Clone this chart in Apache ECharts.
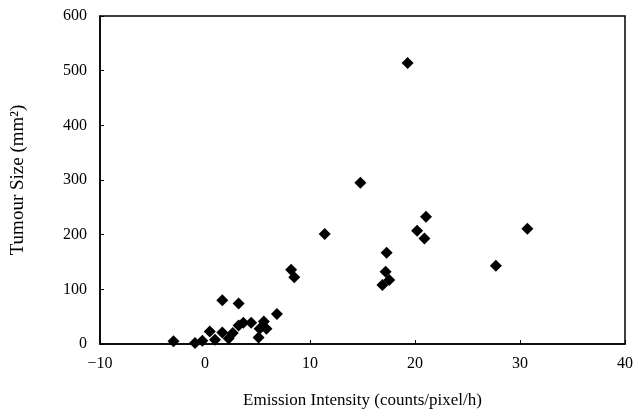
<!DOCTYPE html>
<html>
<head>
<meta charset="utf-8">
<script src="https://cdn.jsdelivr.net/npm/echarts@6/dist/echarts.min.js"></script>
<style>html,body{margin:0;padding:0;background:#fff}#c{width:638px;height:419px}</style>
</head>
<body>
<div id="c"></div>
<script>
var emissionIntensity = [-3.0, -0.95, -0.25, 0.45, 0.95, 1.65, 1.65, 2.25, 2.65, 3.2, 3.2, 3.65, 4.4, 5.1, 5.2, 5.6, 5.85, 6.85, 8.2, 8.5, 11.4, 14.8, 19.3, 17.3, 17.2, 17.55, 16.9, 20.2, 21.05, 20.9, 27.7, 30.7];
var tumourSize = [5, 2, 6, 23, 8, 80, 21, 10, 20, 74, 34, 39, 39, 12, 28, 41, 28, 55, 136, 122, 201, 295, 514, 167, 132, 117, 108, 207, 233, 193, 143, 211];
var xTitle = 'Emission Intensity (counts/pixel/h)';
var yTitle = 'Tumour Size (mm²)';

var points = emissionIntensity.map(function (x, i) { return [x, tumourSize[i]]; });
var font = 'Liberation Serif';
var chart = echarts.init(document.getElementById('c'), null, {renderer: 'canvas'});
chart.setOption({
  animation: false,
  backgroundColor: '#fff',
  grid: {left: 100, right: 13, top: 16, bottom: 75, show: true, borderColor: '#000', borderWidth: 1.5, containLabel: false},
  xAxis: {
    type: 'value', min: -10, max: 40, interval: 10,
    name: xTitle, nameLocation: 'middle', nameGap: 48,
    nameTextStyle: {fontFamily: font, fontSize: 17, color: '#000'},
    axisLine: {show: true, onZero: false, lineStyle: {color: '#000', width: 1.5}},
    axisTick: {show: true, inside: true, length: 4, lineStyle: {color: '#000'}},
    axisLabel: {fontFamily: font, fontSize: 16, color: '#000', margin: 12,
      formatter: function (v) { return v < 0 ? '\u2212' + Math.abs(v) : String(v); }},
    splitLine: {show: false}
  },
  yAxis: {
    type: 'value', min: 0, max: 600, interval: 100,
    name: yTitle, nameLocation: 'middle', nameGap: 72, nameRotate: 90,
    nameTextStyle: {fontFamily: font, fontSize: 19, color: '#000'},
    axisLine: {show: true, onZero: false, lineStyle: {color: '#000', width: 1.5}},
    axisTick: {show: true, inside: true, length: 4, lineStyle: {color: '#000'}},
    axisLabel: {fontFamily: font, fontSize: 16, color: '#000', margin: 13},
    splitLine: {show: false}
  },
  series: [{
    type: 'scatter', symbol: 'diamond', symbolSize: 12,
    itemStyle: {color: '#000', opacity: 1},
    data: points
  }]
});
</script>
</body>
</html>
